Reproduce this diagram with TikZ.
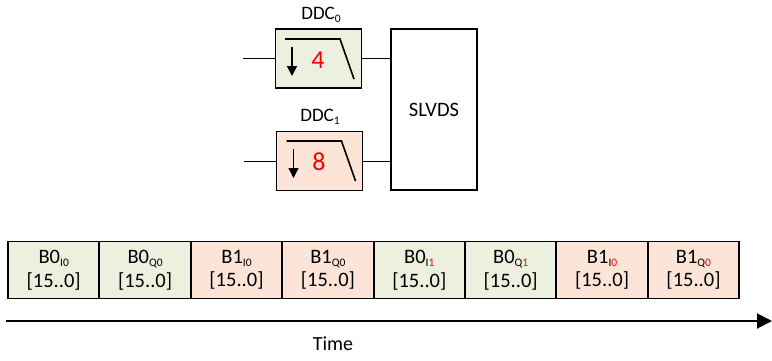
\documentclass[tikz,border=0pt]{standalone}
\usepackage{fontspec}
\setmainfont{Carlito}
\usetikzlibrary{arrows.meta,calc}
\definecolor{greenfill}{HTML}{EBF1DE}
\definecolor{orangefill}{HTML}{FCE4D6}
\newcommand\lowidx[1]{\raisebox{-0.35ex}{\fontsize{11.5}{11.5}\selectfont #1}}
\tikzset{
  blk/.style={draw,line width=1.9pt,inner sep=0pt},
  ddcbox/.style={blk,minimum width=86pt,minimum height=59pt},
  slotbox/.style={blk,minimum width=91.4pt,minimum height=57pt,align=center,
    font=\fontsize{20.5}{23.5}\selectfont},
  wire/.style={line width=1pt},
  lbl/.style={font=\fontsize{19}{20}\selectfont},
  ratio/.style={red,font=\fontsize{26}{26}\selectfont},
}
\begin{document}
\begin{tikzpicture}[x=1pt,y=-1pt]
            \useasboundingbox (0,0) rectangle (772,360);
            % filters
            \node[ddcbox,fill=greenfill] (ddc0) at (318.5,58.5) {};
            \node[ddcbox,fill=orangefill] (ddc1) at (319.5,161) {};
            \node[lbl] (lab0) at (321,15) {DDC\lowidx{0}};
            \node[lbl] (lab1) at (320,117) {DDC\lowidx{1}};
            \draw[line width=1.6pt] (285,39) -- (340,39) -- (354,79);
            \draw[line width=1.6pt] (286.5,141) -- (341.5,141) -- (355.5,181);
            \draw[line width=1.4pt,-{Triangle[length=10pt,width=10pt]}] (292,47) -- (292,76);
            \draw[line width=1.4pt,-{Triangle[length=10pt,width=10pt]}] (293.5,149) -- (293.5,178);
            \node[ratio] (r0) at (318,60) {4};
            \node[ratio] (r1) at (319,162) {8};
            % serializer
            \node[blk,minimum width=86pt,minimum height=161pt,font=\fontsize{20.5}{22}\selectfont] (slvds) at (434,109.5) {SLVDS};
            \coordinate (in0) at (243,58.5);
            \coordinate (in1) at (244,161);
            \draw[wire] (in0) -- (ddc0.west);
            \draw[wire] (in1) -- (ddc1.west);
            \draw[wire] (ddc0.east) -- (ddc0.east -| slvds.west);
            \draw[wire] (ddc1.east) -- (ddc1.east -| slvds.west);
            % output frame
            \foreach \name/\idx/\col [count=\i from 0] in {
                B0/I0/greenfill, B0/Q0/greenfill, B1/I0/orangefill, B1/Q0/orangefill,
                B0/I\textcolor{red}{1}/greenfill, B0/Q\textcolor{red}{1}/greenfill,
                B1/I\textcolor{red}{0}/orangefill, B1/Q\textcolor{red}{0}/orangefill}
              \node[slotbox,fill=\col] (slot\i) at (53.7+91.4*\i,270) {\name\lowidx{\idx}\\[0pt][15..0]};
            % time axis
            \coordinate (t0) at (6,321);
            \coordinate (t1) at (772,321);
            \draw[line width=2pt,-{Triangle[length=15pt,width=15pt]}] (t0) -- (t1);
            \node[font=\fontsize{20}{22}\selectfont] (time) at (333,344) {Time};
        \end{tikzpicture}
\end{document}
